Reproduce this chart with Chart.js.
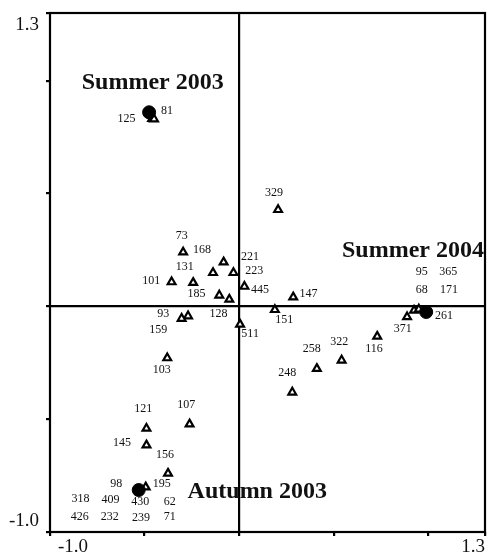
<!DOCTYPE html>
<html>
<head>
<meta charset="utf-8">
<script src="https://cdn.jsdelivr.net/npm/chart.js@4/dist/chart.umd.min.js"></script>
<style>
    html, body { margin: 0; padding: 0; background: #fff; }
    #wrap { width: 488px; height: 557px; position: relative; }
</style>
</head>
<body>
<div id="wrap"><canvas id="ordChart"></canvas></div>
<script>
// Axis range and ticks
const axisMin = -1.0;
const axisMax = 1.3;
const tickValues = [-1, -0.5, 0, 0.5, 1, 1.3];
const endLabels = ['-1.0', '1.3'];

// Season centroids (filled circles)
const seasonNames = ['Summer 2003', 'Summer 2004', 'Autumn 2003'];
const seasonX = [-0.476, 0.989, -0.531];
const seasonY = [0.860, -0.025, -0.814];
const seasonLabelX = [-0.457, 0.919, 0.096];
const seasonLabelY = [0.991, 0.248, -0.823];

// Samples (open triangles)
const sampleX = [-0.46, -0.45, 0.206, -0.296, -0.082, -0.138, -0.030, 0.028, -0.357, -0.243,
    -0.105, -0.052, 0.286, 0.189, 0.005, -0.270, -0.304, -0.380, 0.888, 0.730,
    0.542, 0.411, 0.281, 0.925, 0.950, -0.490, -0.262, -0.490, -0.376, -0.494];
const sampleY = [0.832, 0.830, 0.428, 0.240, 0.196, 0.149, 0.149, 0.088, 0.108, 0.105,
    0.049, 0.031, 0.041, -0.015, -0.080, -0.043, -0.054, -0.229, -0.047, -0.133,
    -0.239, -0.276, -0.381, -0.018, -0.013, -0.541, -0.522, -0.615, -0.740, -0.801];

// Sample number labels
const labelText = ['81', '125', '329', '73', '168', '131', '221', '223', '445', '101',
    '185', '128', '147', '151', '511', '93', '159', '103', '371', '116',
    '322', '258', '248', '95', '365', '68', '171', '261', '121', '107',
    '145', '156', '98', '195', '318', '409', '430', '62', '426', '232', '239', '71'];
const labelX = [-0.381, -0.596, 0.184, -0.304, -0.196, -0.288, 0.058, 0.080, 0.110, -0.464,
    -0.225, -0.109, 0.367, 0.238, 0.058, -0.401, -0.427, -0.409, 0.865, 0.713,
    0.530, 0.384, 0.255, 0.966, 1.106, 0.966, 1.110, 1.083, -0.507, -0.280,
    -0.619, -0.392, -0.650, -0.409, -0.839, -0.680, -0.523, -0.367, -0.843, -0.684, -0.519, -0.367];
const labelY = [0.867, 0.832, 0.503, 0.311, 0.252, 0.177, 0.221, 0.156, 0.071, 0.115,
    0.056, -0.032, 0.056, -0.059, -0.124, -0.032, -0.102, -0.280, -0.100, -0.187,
    -0.159, -0.187, -0.295, 0.155, 0.155, 0.074, 0.074, -0.043, -0.453, -0.438,
    -0.605, -0.659, -0.788, -0.788, -0.855, -0.858, -0.866, -0.866, -0.932, -0.932, -0.939, -0.932];

const serif = '"Liberation Serif", "Times New Roman", serif';

const toPoints = (xs, ys) => xs.map((x, i) => ({ x: x, y: ys[i] }));

// Frame round the plot area
const framePlugin = {
    id: 'frame',
    beforeDatasetsDraw: (chart) => {
        const a = chart.chartArea;
        const ctx = chart.ctx;
        ctx.save();
        ctx.strokeStyle = '#000';
        ctx.lineWidth = 2.2;
        ctx.strokeRect(a.left, a.top, a.right - a.left, a.bottom - a.top);
        ctx.restore();
    }
};

// Text: sample numbers, season names, end tick labels
const textPlugin = {
    id: 'texts',
    afterDatasetsDraw: (chart) => {
        const ctx = chart.ctx;
        const xs = chart.scales.x;
        const ys = chart.scales.y;
        const a = chart.chartArea;
        ctx.save();
        ctx.fillStyle = '#111';
        ctx.textAlign = 'center';
        ctx.textBaseline = 'middle';

        ctx.font = '12px ' + serif;
        labelText.forEach((t, i) => {
            ctx.fillText(t, xs.getPixelForValue(labelX[i]), ys.getPixelForValue(labelY[i]));
        });

        ctx.font = 'bold 24px ' + serif;
        seasonNames.forEach((t, i) => {
            ctx.fillText(t, xs.getPixelForValue(seasonLabelX[i]), ys.getPixelForValue(seasonLabelY[i]));
        });

        // end labels of the axes
        ctx.font = '19px ' + serif;
        ctx.textAlign = 'right';
        ctx.fillText(endLabels[1], a.left - 11, ys.getPixelForValue(axisMax) + 12);
        ctx.fillText(endLabels[0], a.left - 11, ys.getPixelForValue(axisMin) - 11);
        ctx.textAlign = 'left';
        ctx.fillText(endLabels[0], xs.getPixelForValue(axisMin) + 8, a.bottom + 15);
        ctx.textAlign = 'right';
        ctx.fillText(endLabels[1], xs.getPixelForValue(axisMax), a.bottom + 15);
        ctx.restore();
    }
};

const axisOptions = (side) => ({
    type: 'linear',
    min: axisMin,
    max: axisMax,
    afterBuildTicks: (scale) => {
        scale.ticks = tickValues.map(v => ({ value: v }));
    },
    afterFit: (scale) => {
        if (side === 'x') scale.height = 25;
        else scale.width = 50;
    },
    ticks: { callback: () => '' },
    border: { display: false },
    grid: {
        color: (c) => (c.tick && c.tick.value === 0 ? '#000' : 'rgba(0,0,0,0)'),
        tickColor: '#000',
        tickLength: 4,
        lineWidth: 2.2
    }
});

document.addEventListener('DOMContentLoaded', () => {
    const ctx = document.getElementById('ordChart');
    new Chart(ctx, {
        type: 'scatter',
        data: {
            datasets: [{
                label: 'Seasons',
                data: toPoints(seasonX, seasonY),
                pointStyle: 'circle',
                pointRadius: 6.5,
                backgroundColor: '#000',
                borderColor: '#000',
                borderWidth: 1
            }, {
                label: 'Samples',
                data: toPoints(sampleX, sampleY),
                pointStyle: 'triangle',
                pointRadius: 4.5,
                backgroundColor: '#fff',
                borderColor: '#000',
                borderWidth: 2.2
            }]
        },
        options: {
            responsive: true,
            maintainAspectRatio: false,
            animation: false,
            layout: { autoPadding: false, padding: { top: 13, right: 1, left: 0, bottom: 0 } },
            plugins: {
                legend: { display: false },
                tooltip: { enabled: false }
            },
            scales: {
                x: axisOptions('x'),
                y: axisOptions('y')
            }
        },
        plugins: [framePlugin, textPlugin]
    });
});
</script>
</body>
</html>
